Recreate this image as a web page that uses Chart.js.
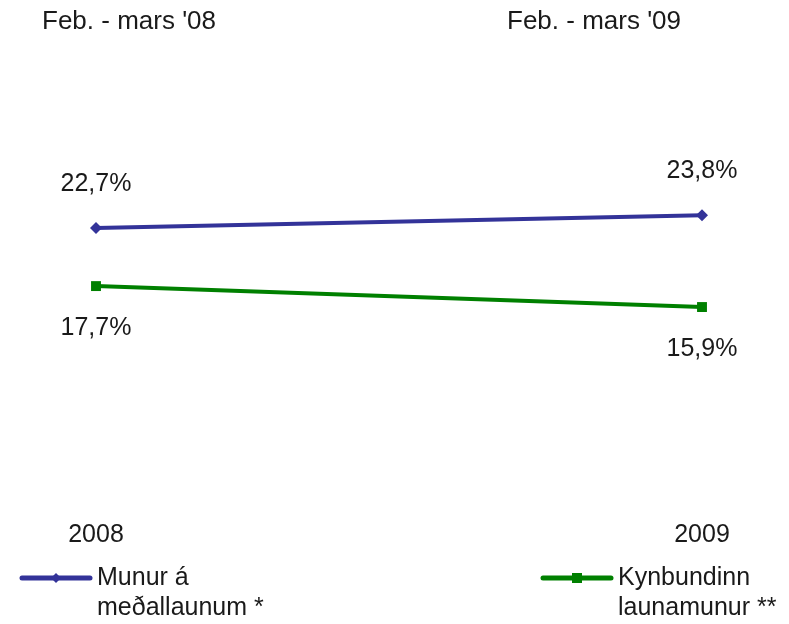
<!DOCTYPE html>
<html>
<head>
<meta charset="utf-8">
<script src="https://cdn.jsdelivr.net/npm/chart.js@4"></script>
<style>
  html, body { margin: 0; padding: 0; background: #ffffff; }
  #wrap { width: 789px; height: 624px; position: relative; }
</style>
</head>
<body>
<div id="wrap"><canvas id="c" width="789" height="624"></canvas></div>
<script>
const categories = ['2008', '2009'];
const periodLabels = ["Feb. - mars '08", "Feb. - mars '09"];
const seriesNames = [['Munur á', 'meðallaunum *'], ['Kynbundinn', 'launamunur **']];
const meanDiff = [22.7, 23.8];
const genderGap = [17.7, 15.9];

const FONT = '"Liberation Sans", Arial, sans-serif';
const BLUE = '#333399';
const GREEN = '#008000';

function fmt(v) { return v.toFixed(1).replace('.', ',') + '%'; }

const labelPlugin = {
  id: 'customLabels',
  afterDatasetsDraw(chart) {
    const ctx = chart.ctx;
    ctx.save();
    ctx.fillStyle = '#1a1a1a';
    ctx.font = '25px ' + FONT;
    ctx.textAlign = 'center';
    ctx.textBaseline = 'middle';
    chart.data.datasets.forEach((ds, i) => {
      const meta = chart.getDatasetMeta(i);
      meta.data.forEach((pt, j) => {
        const off = ds.labelSide === 'above' ? -44 : 42;
        ctx.fillText(fmt(ds.data[j]), pt.x, pt.y + off);
      });
    });
    // period labels at top
    ctx.font = '26px ' + FONT;
    ctx.textAlign = 'left';
    ctx.fillText(periodLabels[0], 42, 22);
    ctx.fillText(periodLabels[1], 507, 22);
    // legend
    const items = [
      { x: 20, ds: chart.data.datasets[0] },
      { x: 541, ds: chart.data.datasets[1] }
    ];
    const ly = 578;
    items.forEach((it, k) => {
      ctx.strokeStyle = it.ds.borderColor;
      ctx.lineWidth = 5;
      ctx.lineCap = 'round';
      ctx.beginPath();
      ctx.moveTo(it.x + 2, ly);
      ctx.lineTo(it.x + 70, ly);
      ctx.stroke();
      ctx.fillStyle = it.ds.borderColor;
      const cx = it.x + 36;
      if (it.ds.pointStyle === 'rectRot') {
        ctx.beginPath();
        ctx.moveTo(cx, ly - 5); ctx.lineTo(cx + 5, ly); ctx.lineTo(cx, ly + 5); ctx.lineTo(cx - 5, ly);
        ctx.closePath(); ctx.fill();
      } else {
        ctx.fillRect(cx - 5, ly - 5, 10, 10);
      }
      ctx.fillStyle = '#1a1a1a';
      ctx.font = '25px ' + FONT;
      ctx.textAlign = 'left';
      ctx.textBaseline = 'middle';
      it.ds.legendLines.forEach((line, m) => {
        ctx.fillText(line, it.x + 77, ly + m * 30);
      });
    });
    ctx.restore();
  }
};

new Chart(document.getElementById('c'), {
  type: 'line',
  data: {
    labels: categories,
    datasets: [
      {
        label: seriesNames[0].join(' '),
        legendLines: seriesNames[0],
        data: meanDiff,
        borderColor: BLUE,
        backgroundColor: BLUE,
        borderWidth: 4,
        pointStyle: 'rectRot',
        pointRadius: 6,
        pointBorderWidth: 0,
        labelSide: 'above',
        tension: 0
      },
      {
        label: seriesNames[1].join(' '),
        legendLines: seriesNames[1],
        data: genderGap,
        borderColor: GREEN,
        backgroundColor: GREEN,
        borderWidth: 4,
        pointStyle: 'rect',
        pointRadius: 7,
        pointBorderWidth: 0,
        labelSide: 'below',
        tension: 0
      }
    ]
  },
  options: {
    responsive: false,
    animation: false,
    layout: { padding: { left: 96, right: 87, top: 143, bottom: 46 } },
    plugins: { legend: { display: false }, tooltip: { enabled: false }, title: { display: false } },
    scales: {
      x: {
        offset: false,
        grid: { display: false, drawTicks: false },
        border: { display: false },
        ticks: { color: '#1a1a1a', font: { family: FONT, size: 25 }, padding: 28, maxRotation: 0 }
      },
      y: {
        display: false,
        min: 0,
        max: 30
      }
    }
  },
  plugins: [labelPlugin]
});
</script>
</body>
</html>
